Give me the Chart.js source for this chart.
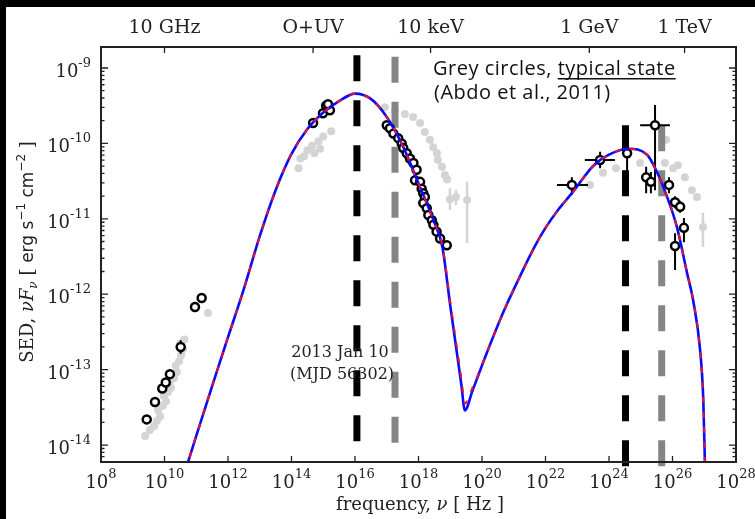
<!DOCTYPE html>
<html>
<head>
<meta charset="utf-8">
<title>SED 2013 Jan 10</title>
<script src="https://cdn.jsdelivr.net/npm/chart.js@4.4.0/dist/chart.umd.min.js"></script>
<style>
  body { margin: 0; background: #fff; }
  canvas { display: block; }
</style>
</head>
<body>
<canvas id="sed" width="755" height="519"></canvas>
<script>
// all values are log10(nu / Hz) and log10(nuFnu / erg s-1 cm-2)

// model curve (blue solid, red dashed on top)
const modelNu   = [10.5, 11.0, 11.5, 12.0, 12.5, 13.0, 13.5, 14.0, 14.5, 15.0, 15.5, 16.0, 16.5, 17.0, 17.5, 18.0, 18.5, 18.75, 19.0, 19.2, 19.35, 19.46, 19.7, 20.15, 20.67, 21.2, 21.67, 22.0, 22.4, 22.87, 23.5, 24.0, 24.6, 25.2, 25.51, 25.83, 26.14, 26.46, 26.65, 26.87, 26.97, 27.02, 27.05];
const modelBlue = [-14.55, -13.88, -13.22, -12.57, -11.93, -11.23, -10.62, -10.14, -9.81, -9.59, -9.44, -9.34, -9.41, -9.65, -10.03, -10.53, -11.05, -11.37, -12.15, -12.75, -13.2, -13.54, -13.28, -12.78, -12.24, -11.76, -11.36, -11.12, -10.88, -10.64, -10.3, -10.15, -10.07, -10.15, -10.38, -10.71, -11.11, -11.72, -12.08, -12.74, -13.4, -14.225, -14.8];
const modelRed  = [-14.55, -13.88, -13.22, -12.57, -11.93, -11.23, -10.62, -10.14, -9.81, -9.59, -9.44, -9.34, -9.41, -9.65, -10.03, -10.53, -11.05, -11.35, -12.1, -12.68, -13.12, -13.45, -13.24, -12.78, -12.24, -11.76, -11.36, -11.12, -10.88, -10.64, -10.3, -10.15, -10.07, -10.15, -10.38, -10.71, -11.11, -11.72, -12.08, -12.74, -13.4, -14.225, -14.8];

// 2013 Jan 10 data (black open circles)
const radioNu  = [9.44, 9.70, 9.93, 10.04, 10.17, 10.51, 10.96, 11.17];
const radioF   = [-13.66, -13.43, -13.25, -13.17, -13.06, -12.70, -12.17, -12.05];
const radioFLo = [null, null, null, null, null, -12.79, null, null];
const radioFHi = [null, null, null, null, null, -12.61, null, null];

const opticalNu = [14.68, 14.99, 15.09, 15.21, 15.15];
const opticalF  = [-9.73, -9.60, -9.50, -9.56, -9.48];

const xrayNu = [17.00, 17.10, 17.21, 17.36, 17.47, 17.52, 17.63, 17.73, 17.84, 17.94, 17.89, 18.05, 18.10, 18.15, 18.20, 18.15, 18.26, 18.31, 18.42, 18.47, 18.57, 18.68, 18.89];
const xrayF  = [-9.76, -9.80, -9.87, -9.93, -10.00, -10.06, -10.13, -10.20, -10.26, -10.35, -10.49, -10.51, -10.60, -10.66, -10.71, -10.79, -10.86, -10.95, -11.02, -11.08, -11.17, -11.26, -11.35];

const gammaNu   = [22.83, 23.72, 24.57, 25.45, 25.17, 25.32, 25.89, 26.08, 26.24, 26.36, 26.08];
const gammaF    = [-10.55, -10.22, -10.13, -9.76, -10.45, -10.51, -10.55, -10.78, -10.84, -11.12, -11.36];
const gammaNuLo = [22.36, 23.24, null, 24.98, null, null, null, null, null, null, null];
const gammaNuHi = [23.34, 24.19, null, 25.92, null, null, null, null, null, null, null];
const gammaFLo  = [-10.68, -10.33, -10.40, -10.62, -10.66, -10.66, -10.66, -10.86, -10.92, -11.31, -11.68];
const gammaFHi  = [-10.45, -10.11, -9.95, -9.49, -10.31, -10.38, -10.45, -10.70, -10.76, -10.99, -11.19];

// typical state (grey filled circles, Abdo et al. 2011)
const greyNu = [9.39, 9.54, 9.67, 9.76, 9.86, 9.80, 9.95, 10.05, 9.98, 10.11, 10.20, 10.17, 10.30, 10.39, 10.35, 10.46, 10.52, 10.58, 10.50, 10.63, 11.37,
                15.25, 15.00, 14.85, 14.65, 14.50, 14.40, 14.28, 14.22, 14.72, 14.90,
                16.94, 17.26, 17.57, 17.83, 18.05, 18.20, 18.36, 18.46, 18.58, 18.61, 18.74, 18.83, 18.90,
                23.40, 23.81, 24.22, 24.98, 25.76, 25.80, 26.02, 26.17, 26.39, 26.61, 26.77];
const greyF  = [-13.88, -13.80, -13.75, -13.68, -13.62, -13.54, -13.48, -13.42, -13.35, -13.30, -13.24, -13.16, -13.11, -13.03, -12.95, -12.89, -12.81, -12.73, -12.65, -12.60, -12.25,
                -9.84, -9.91, -9.97, -10.03, -10.09, -10.17, -10.20, -10.33, -10.13, -10.07,
                -9.52, -9.56, -9.61, -9.65, -9.73, -9.85, -9.95, -10.05, -10.13, -10.22, -10.31, -10.42, -10.48,
                -10.55, -10.39, -10.33, -10.26, -10.26, -9.95, -10.33, -10.29, -10.45, -10.62, -10.71];
const greyErrNu  = [18.99, 19.18, 19.53, 26.96];
const greyErrF   = [-10.74, -10.71, -10.75, -11.11];
const greyErrFLo = [-10.88, -10.82, -11.32, -11.37];
const greyErrFHi = [-10.59, -10.62, -10.51, -10.92];

// epoch markers (vertical dashed lines): black and grey
const blackLineNu  = [16.06, 24.52];
const blackLineTop = [-8.83, -9.76];
const blackLineBot = [-14.03, -14.28];
const greyLineNu   = [17.26, 25.66];
const greyLineTop  = [-8.85, -9.76];
const greyLineBot  = [-14.03, -14.33];

// axis ticks and band labels
const xTickExp = [8, 10, 12, 14, 16, 18, 20, 22, 24, 26, 28];
const yTickExp = [-14, -13, -12, -11, -10, -9];
const bandNu    = [10, 14.68, 18.38, 23.38, 26.38];
const bandNames = ['10 GHz', 'O+UV', '10 keV', '1 GeV', '1 TeV'];

const P = (lx, ly) => ({ x: 10 ** lx, y: 10 ** ly });
const series = (nu, f) => nu.map((v, i) => P(v, f[i]));
const withErr = (nu, f, fLo, fHi, nuLo, nuHi) => nu.map((v, i) => {
  const p = P(v, f[i]);
  if (fLo && fLo[i] != null) { p.ylo = 10 ** fLo[i]; p.yhi = 10 ** fHi[i]; }
  if (nuLo && nuLo[i] != null) { p.xlo = 10 ** nuLo[i]; p.xhi = 10 ** nuHi[i]; }
  return p;
});
const vline = (nu, top, bot, i) => [P(nu[i], top[i]), P(nu[i], bot[i])];

const SERIF = '"DejaVu Serif", serif';
const SANS = '"DejaVu Sans", sans-serif';

function drawRuns(c, runs, x, y, align) {
  let w = 0;
  runs.forEach(r => { c.font = r[1]; w += c.measureText(r[0]).width; });
  let cx = align === 'center' ? x - w / 2 : align === 'right' ? x - w : x;
  c.textAlign = 'left';
  c.textBaseline = 'alphabetic';
  runs.forEach(r => {
    c.font = r[1];
    c.fillText(r[0], cx, y + (r[2] || 0));
    cx += c.measureText(r[0]).width;
  });
}

// error bars are drawn just before the points of their dataset
const errorBars = {
  id: 'errorBars',
  beforeDatasetDraw(chart, args) {
    const ds = chart.data.datasets[args.index];
    if (!ds.errorColor) return;
    const { ctx: c, scales: { x, y } } = chart;
    c.save();
    c.strokeStyle = ds.errorColor;
    c.lineWidth = ds.errorWidth;
    c.beginPath();
    ds.data.forEach(p => {
      const px = x.getPixelForValue(p.x), py = y.getPixelForValue(p.y);
      if (p.ylo !== undefined) { c.moveTo(px, y.getPixelForValue(p.ylo)); c.lineTo(px, y.getPixelForValue(p.yhi)); }
      if (p.xlo !== undefined) { c.moveTo(x.getPixelForValue(p.xlo), py); c.lineTo(x.getPixelForValue(p.xhi), py); }
    });
    c.stroke();
    c.restore();
  }
};

// background, axes box, inward ticks, labels and annotations
const frame = {
  id: 'frame',
  beforeDraw(chart) {
    const c = chart.ctx;
    c.save();
    c.fillStyle = '#fff';
    c.fillRect(0, 0, chart.width, chart.height);
    c.fillStyle = '#000';
    c.fillRect(0, 0, chart.width, 7);
    c.fillRect(0, 0, 6, chart.height);
    c.restore();
  },
  afterDraw(chart) {
    const { ctx: c, chartArea: a, scales: { x, y } } = chart;
    c.save();
    c.strokeStyle = '#222';
    c.lineWidth = 2;
    c.strokeRect(a.left, a.top, a.right - a.left, a.bottom - a.top);

    c.lineWidth = 1.3;
    c.beginPath();
    xTickExp.forEach(e => {
      const px = x.getPixelForValue(10 ** e);
      c.moveTo(px, a.bottom); c.lineTo(px, a.bottom - 6);
    });
    bandNu.forEach(e => {
      const px = x.getPixelForValue(10 ** e);
      c.moveTo(px, a.top); c.lineTo(px, a.top + 6);
    });
    for (let d = -15; d <= -9; d++) {
      for (let m = 1; m <= 9; m++) {
        const v = m * 10 ** d;
        if (v < y.min || v > y.max) continue;
        const py = y.getPixelForValue(v);
        const len = m === 1 ? 7 : 3.5;
        c.moveTo(a.left, py); c.lineTo(a.left + len, py);
        c.moveTo(a.right, py); c.lineTo(a.right - len, py);
      }
    }
    c.stroke();

    c.fillStyle = '#222';
    xTickExp.forEach(e => drawRuns(c, [['10', '18px ' + SERIF], [String(e), '13px ' + SERIF, -10]],
      x.getPixelForValue(10 ** e), 488, 'center'));
    yTickExp.forEach(e => {
      const py = y.getPixelForValue(10 ** e);
      drawRuns(c, [['10', '18px ' + SERIF], ['-' + Math.abs(e), '13px ' + SERIF, -10]], 91, py + 9, 'right');
    });
    bandNu.forEach((e, i) => drawRuns(c, [[bandNames[i], '19px ' + SERIF]], x.getPixelForValue(10 ** e), 33, 'center'));

    drawRuns(c, [['frequency, ', '18px ' + SERIF], ['ν', 'italic 18px ' + SERIF], [' [ Hz ]', '18px ' + SERIF]], 420, 510, 'center');

    c.save();
    c.translate(27, 252);
    c.rotate(-Math.PI / 2);
    drawRuns(c, [
      ['SED, ', '18px ' + SERIF], ['νF', 'italic 18px ' + SERIF], ['ν', 'italic 12px ' + SERIF, 4],
      [' [ ', '18px ' + SERIF], ['erg s', '17px ' + SANS], ['−1', '12px ' + SANS, -8],
      [' cm', '17px ' + SANS], ['−2', '12px ' + SANS, -8], [' ]', '18px ' + SERIF]
    ], 0, 6, 'center');
    c.restore();

    drawRuns(c, [['2013 Jan 10', '16px ' + SERIF]], 340, 357, 'center');
    drawRuns(c, [['(MJD 56302)', '16px ' + SERIF]], 342, 379, 'center');

    c.fillStyle = '#111';
    c.letterSpacing = '0.5px';
    const f1 = '20px "Open Sans", sans-serif';
    drawRuns(c, [['Grey circles, ', f1]], 433, 75, 'left');
    c.font = f1;
    const w0 = c.measureText('Grey circles, ').width;
    const w1 = c.measureText('typical state').width;
    c.fillText('typical state', 433 + w0, 75);
    c.fillRect(433 + w0, 78, w1, 1.5);
    drawRuns(c, [['(Abdo et al., 2011)', f1]], 434, 99, 'left');
    c.restore();
  }
};

const ctx = document.getElementById('sed').getContext('2d');
new Chart(ctx, {
  type: 'scatter',
  data: {
    datasets: [
      { data: series(modelNu, modelRed), showLine: true, borderColor: '#e8102a', borderWidth: 2,
        borderDash: [6, 9], pointRadius: 0, cubicInterpolationMode: 'monotone', order: 1 },
      { data: series(modelNu, modelBlue), showLine: true, borderColor: '#0a0aff', borderWidth: 2.6,
        pointRadius: 0, cubicInterpolationMode: 'monotone', order: 2 },
      { data: withErr(radioNu, radioF, radioFLo, radioFHi), errorColor: '#000', errorWidth: 2,
        pointRadius: 4, borderWidth: 2.5, borderColor: '#000', backgroundColor: '#fff', order: 3 },
      { data: series(opticalNu, opticalF), pointRadius: 4, borderWidth: 2.5, borderColor: '#000',
        backgroundColor: '#fff', order: 3 },
      { data: series(xrayNu, xrayF), pointRadius: 4, borderWidth: 2.5, borderColor: '#000',
        backgroundColor: '#fff', order: 3 },
      { data: withErr(gammaNu, gammaF, gammaFLo, gammaFHi, gammaNuLo, gammaNuHi), errorColor: '#000', errorWidth: 2,
        pointRadius: 4, borderWidth: 2.5, borderColor: '#000', backgroundColor: '#fff', order: 3 },
      ...blackLineNu.map((_, i) => ({ data: vline(blackLineNu, blackLineTop, blackLineBot, i), showLine: true,
        borderColor: '#000', borderWidth: 7, borderDash: [26, 19], pointRadius: 0, clip: false, order: 4 })),
      ...greyLineNu.map((_, i) => ({ data: vline(greyLineNu, greyLineTop, greyLineBot, i), showLine: true,
        borderColor: '#858585', borderWidth: 7, borderDash: [26, 19], pointRadius: 0, clip: false, order: 4 })),
      { data: withErr(greyErrNu, greyErrF, greyErrFLo, greyErrFHi), errorColor: '#d4d4d4', errorWidth: 2.5,
        pointRadius: 4, borderWidth: 0, backgroundColor: '#d4d4d4', order: 5 },
      { data: series(greyNu, greyF), pointRadius: 4, borderWidth: 0, backgroundColor: '#d4d4d4', order: 5 }
    ]
  },
  options: {
    responsive: false,
    animation: false,
    events: [],
    layout: { padding: { left: 101, top: 47, right: 19, bottom: 57 } },
    scales: {
      x: { type: 'logarithmic', min: 1e8, max: 1e28, display: false },
      y: { type: 'logarithmic', min: 10 ** -14.225, max: 10 ** -8.7215, display: false }
    },
    plugins: { legend: { display: false }, tooltip: { enabled: false } }
  },
  plugins: [errorBars, frame]
});
</script>
</body>
</html>
